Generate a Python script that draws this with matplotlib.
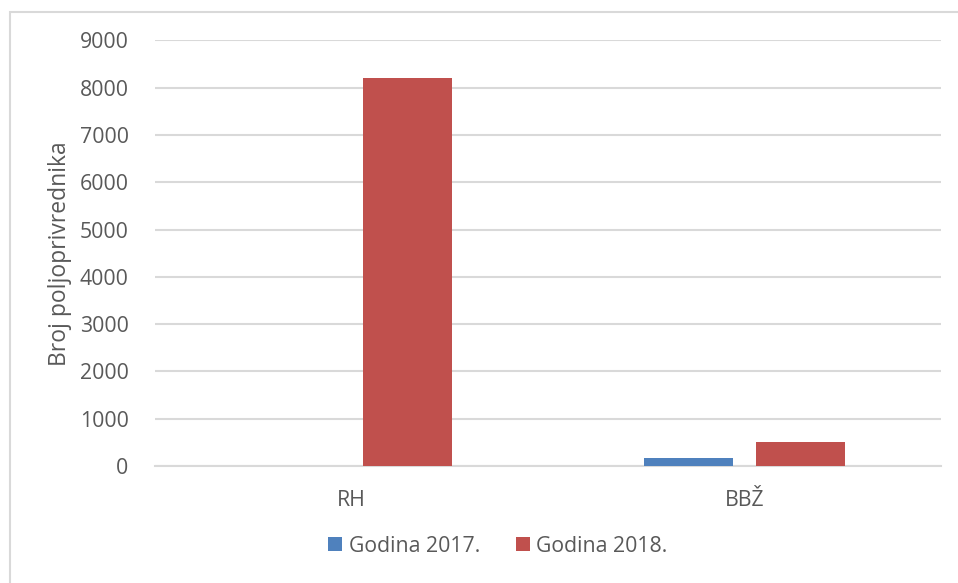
import numpy as np
import matplotlib
matplotlib.use("Agg")
import matplotlib.pyplot as plt
from matplotlib.patches import Rectangle

# podaci
kategorije = ["RH", "BBŽ"]
godina_2017 = [0, 175]
godina_2018 = [8200, 515]
serije = ["Godina 2017.", "Godina 2018."]
boje = ["#4F81BD", "#C0504D"]
y_ticks = [0, 1000, 2000, 3000, 4000, 5000, 6000, 7000, 8000, 9000]

plt.rcParams['font.family'] = ['Open Sans', 'DejaVu Sans']
siva = "#595959"
fs = 15.3

fig = plt.figure(figsize=(9.58, 5.83), dpi=100)
ax = fig.add_axes([155/958, 1-466/583, 786/958, (466-40.4)/583])

x = np.arange(len(kategorije))
w = 0.224
ax.bar(x - 0.1425, godina_2017, w, color=boje[0], label=serije[0], zorder=3)
ax.bar(x + 0.1425, godina_2018, w, color=boje[1], label=serije[1], zorder=3)

ax.set_xlim(-0.5, 1.5)
ax.set_ylim(0, 9000)
ax.set_yticks(y_ticks)
ax.set_xticks(x)
ax.set_xticklabels(kategorije)
ax.yaxis.grid(True, color="#D9D9D9", linewidth=1.5, zorder=0)
for s in ["top", "right", "left"]:
    ax.spines[s].set_visible(False)
ax.spines["bottom"].set_color("#D9D9D9")
ax.spines["bottom"].set_linewidth(1.5)
ax.tick_params(axis="both", length=0, labelsize=fs, labelcolor=siva)
ax.tick_params(axis="y", pad=19)
ax.tick_params(axis="x", pad=17)
ax.set_ylabel("Broj poljoprivrednika", fontsize=16.5, color=siva)
ax.yaxis.set_label_coords((72 - 155) / 786, 0.5 + (466 - 254 - (466 - 40.4) / 2) / (466 - 40.4))

leg = fig.legend(loc="center", bbox_to_anchor=(498/958, 1-546/583), ncol=2,
                 frameon=False, fontsize=fs, handlelength=0.65, handleheight=0.65,
                 handletextpad=0.3, columnspacing=1.7)
for t in leg.get_texts():
    t.set_color(siva)

# okvir grafikona
fig.patches.append(Rectangle((9.5/958, -0.1), 1.2, 1 - 12.5/583 + 0.1,
                             transform=fig.transFigure, fill=False,
                             edgecolor="#D9D9D9", linewidth=1.5))

fig.savefig("out.png", dpi=100)
